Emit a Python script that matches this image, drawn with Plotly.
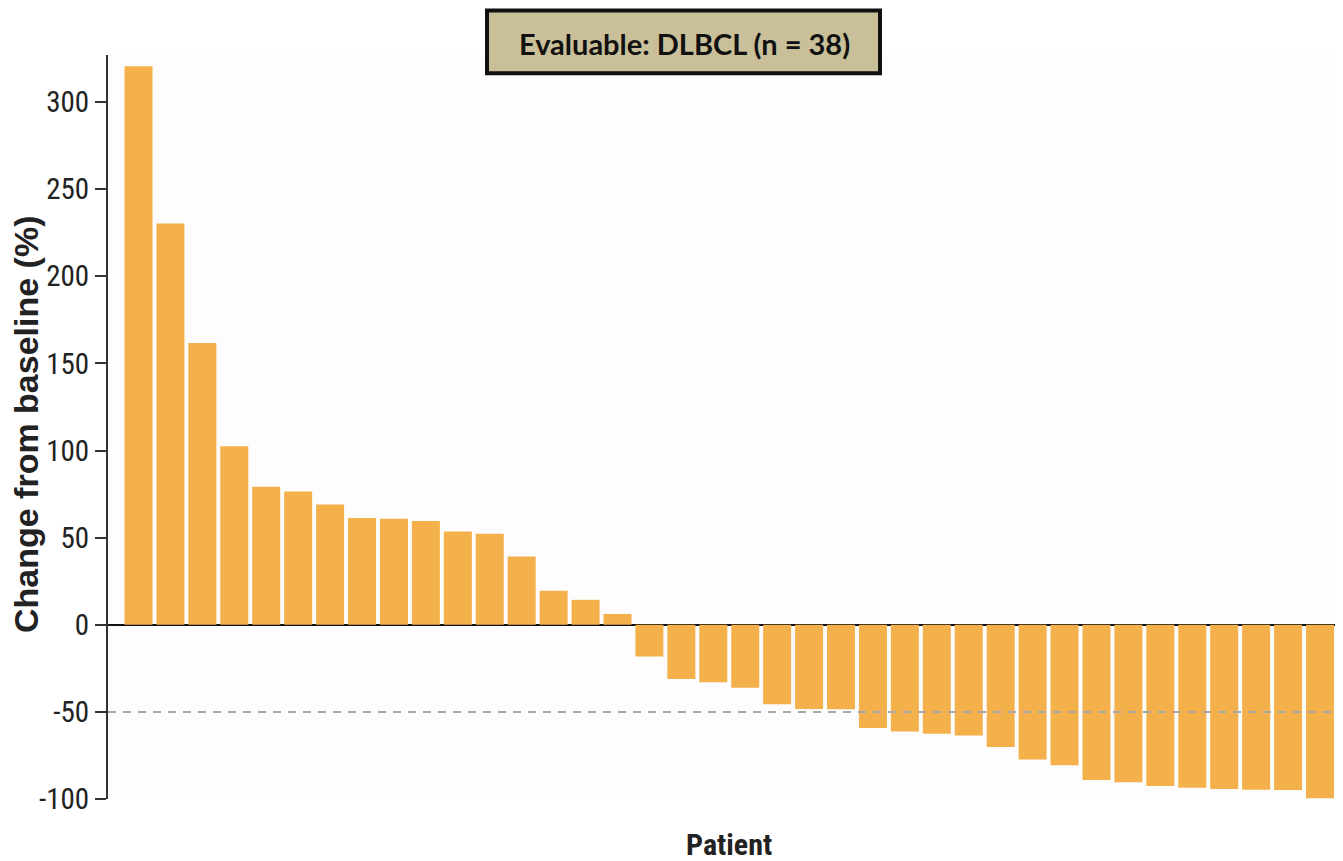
import plotly.graph_objects as go

patients = list(range(1, 39))
change_pct = [320.6, 230.3, 161.7, 102.4, 79.2, 76.5, 69.0, 61.3, 60.9, 59.5,
              53.5, 52.2, 39.2, 19.5, 14.3, 6.2,
              -18.2, -31.1, -33.0, -36.1, -45.6, -48.3, -48.5, -59.3, -61.3,
              -62.6, -63.6, -70.1, -77.3, -80.6, -89.1, -90.4, -92.6, -93.5,
              -94.3, -94.7, -94.9, -99.5]
y_tickvals = [300, 250, 200, 150, 100, 50, 0, -50, -100]
y_ticktext = ["300", "250", "200", "150", "100", "50", "0", "-50", "-100"]
threshold = -50
title_text = "Evaluable: DLBCL (n = 38)"
x_title = "Patient"
y_title = "Change from baseline (%)"

BAR = "#F4B04B"
NARROW = "Liberation Sans Narrow, Arial Narrow, Roboto Condensed, Liberation Sans, Arial"

# page body has an 8px margin: the figure is drawn 8px right/down
fig = go.Figure()
fig.add_trace(go.Bar(x=patients, y=change_pct, marker=dict(color=BAR, line=dict(width=0)),
                     hoverinfo="x+y"))

fig.update_layout(
    width=1335, height=853,
    margin=dict(l=100, r=0, t=47, b=62),
    paper_bgcolor="#ffffff", plot_bgcolor="#fdfdfd",
    bargap=0.123, showlegend=False,
    xaxis=dict(range=[0.045, 38.72], showticklabels=False, ticks="", showgrid=False,
               zeroline=False, showline=False),
    yaxis=dict(range=[-100, 327], tickvals=y_tickvals, ticktext=y_ticktext,
               showgrid=False, zeroline=True, zerolinecolor="#111111", zerolinewidth=2,
               showline=True, linecolor="#333333", linewidth=2,
               ticks="outside", ticklen=11, tickwidth=2, tickcolor="#333333",
               tickfont=dict(family=NARROW, size=29, color="#222222")),
    shapes=[
        dict(type="line", xref="paper", yref="y", x0=0, x1=1, y0=threshold, y1=threshold,
             line=dict(color="#a8a8a8", width=2, dash="8px,7px"), layer="above"),
        dict(type="rect", xref="paper", yref="paper", x0=0.3069, x1=0.6251, y0=0.9755, y1=1.0598,
             fillcolor="#C9BF99", line=dict(color="#111111", width=4), layer="above"),
    ],
    annotations=[
        dict(text="<b>" + title_text + "</b>", xref="paper", yref="paper", x=0.4665, y=1.0150,
             xanchor="center", yanchor="middle", showarrow=False,
             font=dict(family="Lato, Open Sans, sans-serif", size=29, color="#111111")),
        dict(text="<b>" + x_title + "</b>", xref="paper", yref="paper", x=0.5028, y=-0.0618,
             xanchor="center", yanchor="middle", showarrow=False,
             font=dict(family=NARROW, size=30, color="#222222")),
        dict(text="<b>" + y_title + "</b>", xref="paper", yref="paper", x=-0.0664, y=0.504,
             xanchor="center", yanchor="middle", showarrow=False, textangle=-90,
             font=dict(family="Liberation Sans, Arial", size=34, color="#222222")),
    ],
)

fig.write_html("out.html")
